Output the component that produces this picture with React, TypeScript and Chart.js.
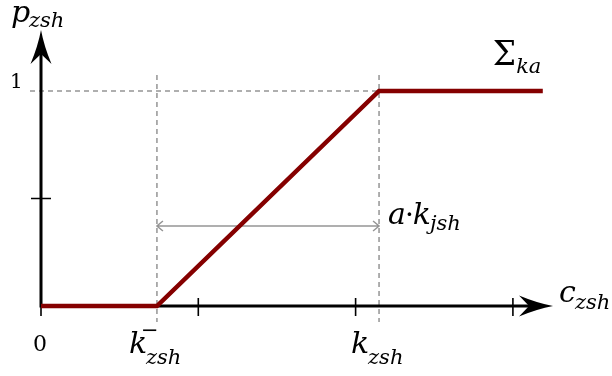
import React, { useEffect, useRef } from "react";
import { Chart, registerables } from "chart.js";

Chart.register(...registerables);

// ---- data ----
const curveX = [0, 0.737, 2.149, 3.19];
const curveY = [0, 0, 1, 1];
const xTickValues = [0, 1, 2, 3];
const yTickValues = [0.5];
const yOneValue = 1;
const kMinusValue = 0.737;
const kValue = 2.149;
const rangeArrowY = 0.372;
const xAxisTip = 3.255;
const yAxisTip = 1.284;

const RED = "#850000";
const GREY = "#959595";
const MAIN = 'italic 30px "DejaVu Serif"';
const SUB = 'italic 21px "DejaVu Serif"';

function stealth(ctx: CanvasRenderingContext2D, tx: number, ty: number, dir: "right" | "up") {
  const L = 34, W = 10.5, N = 24;
  ctx.save();
  ctx.translate(tx, ty);
  if (dir === "up") ctx.rotate(-Math.PI / 2);
  ctx.beginPath();
  ctx.moveTo(0, 0);
  ctx.quadraticCurveTo(-16, -3, -L, -W);
  ctx.lineTo(-N, 0);
  ctx.lineTo(-L, W);
  ctx.quadraticCurveTo(-16, 3, 0, 0);
  ctx.closePath();
  ctx.fillStyle = "#000";
  ctx.fill();
  ctx.restore();
}

function txt(ctx: CanvasRenderingContext2D, s: string, x: number, y: number, font: string) {
  ctx.font = font;
  ctx.fillText(s, x, y);
  return ctx.measureText(s).width;
}

const diagramPlugin = {
  id: "diagram",
  beforeDatasetsDraw(chart: any) {
    const ctx: CanvasRenderingContext2D = chart.ctx;
    const xs = chart.scales.x, ys = chart.scales.y;
    const X = (v: number) => xs.getPixelForValue(v);
    const Y = (v: number) => ys.getPixelForValue(v);
    const x0 = X(0), y0 = Y(0);
    ctx.save();
    // dashed guides
    ctx.strokeStyle = GREY;
    ctx.lineWidth = 1.5;
    ctx.setLineDash([5, 4]);
    ctx.beginPath();
    ctx.moveTo(x0 - 11, Y(yOneValue));
    ctx.lineTo(X(kValue), Y(yOneValue));
    for (const k of [kMinusValue, kValue]) {
      ctx.moveTo(X(k), Y(1.074));
      ctx.lineTo(X(k), Y(-0.074));
    }
    ctx.stroke();
    ctx.setLineDash([]);
    // range arrow
    const ya = Y(rangeArrowY), xa = X(kMinusValue), xb = X(kValue);
    ctx.lineWidth = 1.5;
    ctx.beginPath();
    ctx.moveTo(xa, ya);
    ctx.lineTo(xb, ya);
    ctx.moveTo(xa + 6, ya - 5);
    ctx.lineTo(xa, ya);
    ctx.lineTo(xa + 6, ya + 5);
    ctx.moveTo(xb - 6, ya - 5);
    ctx.lineTo(xb, ya);
    ctx.lineTo(xb - 6, ya + 5);
    ctx.stroke();
    // axes
    ctx.strokeStyle = "#000";
    ctx.lineWidth = 3;
    ctx.beginPath();
    ctx.moveTo(x0, y0 + 1.5);
    ctx.lineTo(x0, Y(yAxisTip) + 20);
    ctx.moveTo(x0 - 1.5, y0);
    ctx.lineTo(X(xAxisTip) - 20, y0);
    ctx.stroke();
    stealth(ctx, X(xAxisTip), y0, "right");
    stealth(ctx, x0, Y(yAxisTip), "up");
    // ticks
    ctx.lineWidth = 1.6;
    ctx.beginPath();
    for (const t of xTickValues) {
      ctx.moveTo(X(t), t === 0 ? y0 : y0 - 8);
      ctx.lineTo(X(t), y0 + 10);
    }
    for (const t of yTickValues) {
      ctx.moveTo(x0 - 10, Y(t));
      ctx.lineTo(x0 + 10, Y(t));
    }
    ctx.stroke();
    ctx.restore();
  },
  afterDraw(chart: any) {
    const ctx: CanvasRenderingContext2D = chart.ctx;
    const xs = chart.scales.x, ys = chart.scales.y;
    const X = (v: number) => xs.getPixelForValue(v);
    const Y = (v: number) => ys.getPixelForValue(v);
    const x0 = X(0), y0 = Y(0);
    ctx.save();
    ctx.fillStyle = "#000";
    ctx.textBaseline = "alphabetic";
    // y axis label
    txt(ctx, "p", x0 - 30, 22, MAIN);
    txt(ctx, "zsh", x0 - 12, 27, SUB);
    // tick values
    txt(ctx, "1", x0 - 31, Y(yOneValue) - 3, '20px "DejaVu Serif"');
    txt(ctx, "0", x0 - 8, y0 + 45, '22px "DejaVu Serif"');
    // k minus
    const km = X(kMinusValue);
    txt(ctx, "k", km - 28, y0 + 47, MAIN);
    txt(ctx, "\u2212", km - 16, y0 + 31, SUB);
    txt(ctx, "zsh", km - 11, y0 + 58, SUB);
    // k
    const kk = X(kValue);
    txt(ctx, "k", kk - 28, y0 + 47, MAIN);
    txt(ctx, "zsh", kk - 11, y0 + 58, SUB);
    // c axis label
    const cx = X(xAxisTip) + 6;
    txt(ctx, "c", cx, y0 - 4, MAIN);
    txt(ctx, "zsh", cx + 16, y0 + 3, SUB);
    // sigma
    const sx = X(3.19) - 50;
    let w = txt(ctx, "\u03A3", sx, Y(yOneValue) - 26, '33px "DejaVu Serif"');
    txt(ctx, "ka", sx + w, Y(yOneValue) - 18, SUB);
    // a·k_jsh
    const ax = X(kValue) + 9;
    const ay = Y(rangeArrowY) - 2;
    w = txt(ctx, "a", ax, ay, MAIN);
    let w2 = txt(ctx, "\u00B7", ax + w - 1, ay, '28px "DejaVu Serif"');
    let w3 = txt(ctx, "k", ax + w + w2 - 2, ay, MAIN);
    txt(ctx, "jsh", ax + w + w2 + w3 - 3, ay + 6, SUB);
    ctx.restore();
  },
};

export default function App() {
  const ref = useRef<HTMLCanvasElement | null>(null);
  useEffect(() => {
    document.body.style.margin = "0";
    const canvas = ref.current!;
    const chart = new Chart(canvas, {
      type: "scatter",
      data: {
        datasets: [
          {
            data: curveX.map((x, i) => ({ x, y: curveY[i] })),
            showLine: true,
            borderColor: RED,
            borderWidth: 4.5,
            pointRadius: 0,
            fill: false,
            clip: false as any,
            borderCapStyle: "butt",
            borderJoinStyle: "miter",
          } as any,
        ],
      },
      options: {
        responsive: false,
        animation: false,
        events: [],
        layout: { padding: { left: 41, right: 51.9, top: 26.5, bottom: 70 } },
        plugins: { legend: { display: false }, tooltip: { enabled: false } },
        scales: {
          x: { type: "linear", display: false, min: 0, max: 3.3 },
          y: { type: "linear", display: false, min: 0, max: 1.3 },
        },
      },
      plugins: [diagramPlugin],
    });
    return () => chart.destroy();
  }, []);
  return (
    <div style={{ position: "absolute", left: 0, top: 0, width: 612, height: 376, background: "#fff" }}>
      <canvas ref={ref} width={612} height={376} />
    </div>
  );
}
